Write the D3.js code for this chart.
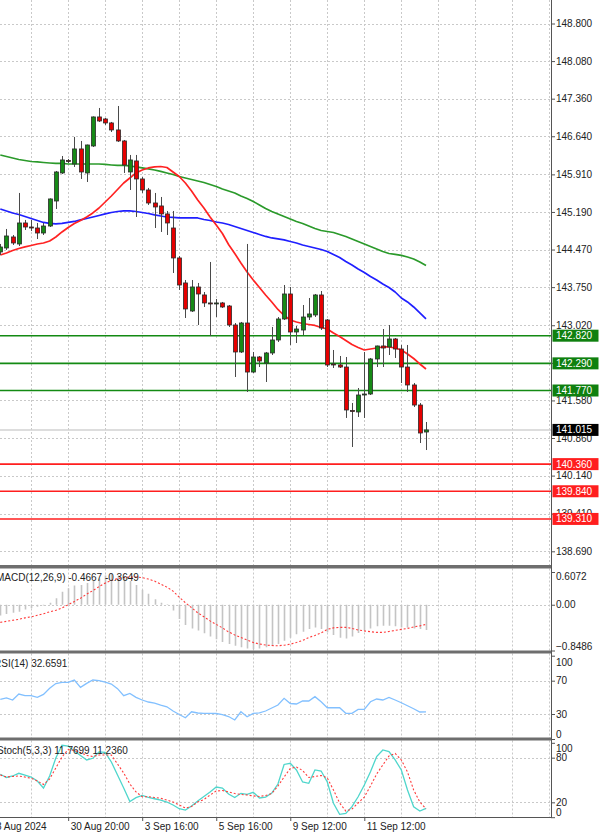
<!DOCTYPE html>
<html><head><meta charset="utf-8">
<script src="https://cdn.jsdelivr.net/npm/d3@7"></script>
<style>html,body{margin:0;padding:0;background:#fff;overflow:hidden}</style>
</head><body><svg id="c" width="600" height="832"></svg>
<script>
// ---------------- data ----------------
const opens = [144.424,144.500,144.711,144.577,144.979,144.902,144.883,144.787,144.921,145.400,
145.937,146.176,146.109,146.397,145.937,146.454,147.010,146.971,146.895,146.761,
146.550,145.956,146.167,145.822,145.611,145.362,145.305,145.152,144.883,144.309,
143.830,143.293,143.753,143.600,143.447,143.437,143.447,143.389,143.025,142.508,
143.063,142.124,142.412,142.297,142.489,142.738,143.140,143.619,142.891,142.929,
143.178,143.217,143.600,143.121,142.278,142.259,142.220,141.387,141.359,141.684,
141.703,142.374,142.623,142.604,142.757,142.565,142.220,141.876,141.492,140.975];
const highs = [144.577,144.864,144.749,145.554,145.037,145.037,144.979,144.979,145.450,145.975,
146.262,146.205,146.627,146.550,146.480,147.020,147.182,146.990,146.914,147.220,
146.569,146.282,146.282,145.860,145.650,145.554,145.477,145.209,145.209,144.347,
143.887,143.887,143.830,143.657,144.232,143.523,143.466,143.408,143.063,143.083,
144.577,142.508,142.431,142.508,142.987,143.178,143.791,143.753,143.006,143.408,
143.542,143.619,143.676,143.140,142.546,142.431,142.412,141.531,141.818,142.508,
142.393,142.630,142.948,143.025,142.776,142.642,142.642,141.914,141.531,141.167];
const lows = [144.366,144.462,144.558,144.538,144.845,144.826,144.672,144.749,144.902,145.247,
145.918,146.128,146.052,145.822,145.764,146.435,146.914,146.856,146.722,146.531,
145.937,145.611,145.094,145.554,145.324,144.883,144.807,144.749,144.021,143.696,
143.159,143.274,143.025,143.370,142.814,143.178,143.351,142.987,142.029,142.489,
141.742,142.105,142.220,141.933,142.450,142.699,143.121,142.642,142.680,142.833,
143.121,143.178,142.929,142.220,142.201,142.201,141.244,140.688,141.263,141.244,
141.684,142.220,142.220,142.450,142.393,141.914,141.742,141.454,140.764,140.630];
const closes = [144.519,144.730,144.596,144.979,144.902,144.883,144.787,144.921,145.439,145.956,
146.186,146.167,146.397,145.956,146.473,147.010,146.933,146.895,146.761,146.550,
146.090,146.186,145.822,145.611,145.362,145.286,145.152,144.979,144.309,143.791,
143.332,143.753,143.619,143.447,143.437,143.447,143.370,143.025,142.508,143.063,
142.124,142.412,142.335,142.489,142.738,143.140,143.619,142.891,142.948,143.178,
143.236,143.600,142.968,142.259,142.259,142.220,141.397,141.378,141.684,141.703,
142.374,142.623,142.584,142.757,142.565,142.220,141.876,141.492,140.956,141.015];

const maRed = [144.366,144.404,144.452,144.491,144.520,144.548,144.577,144.596,144.635,144.711,
144.807,144.893,144.970,145.027,145.094,145.171,145.266,145.381,145.496,145.621,
145.745,145.841,145.937,145.994,146.033,146.052,146.061,146.042,145.956,145.870,
145.745,145.592,145.420,145.266,145.094,144.941,144.778,144.567,144.395,144.213,
144.040,143.887,143.743,143.600,143.466,143.322,143.207,143.121,143.083,143.054,
143.035,143.016,142.977,142.949,142.872,142.805,142.728,142.651,142.594,142.546,
142.565,142.584,142.604,142.604,142.584,142.546,142.470,142.383,142.278,142.182];
const maBlue = [145.247,145.209,145.171,145.142,145.104,145.065,145.027,144.989,144.970,144.960,
144.970,144.989,145.008,145.037,145.065,145.094,145.123,145.152,145.180,145.199,
145.209,145.209,145.199,145.180,145.161,145.133,145.113,145.094,145.085,145.075,
145.075,145.075,145.075,145.046,145.027,144.998,144.979,144.950,144.912,144.874,
144.835,144.797,144.759,144.721,144.692,144.673,144.654,144.625,144.596,144.558,
144.529,144.500,144.471,144.433,144.376,144.318,144.242,144.175,144.098,144.031,
143.954,143.887,143.811,143.744,143.657,143.542,143.466,143.370,143.255,143.140];
const maGreen = [146.282,146.253,146.224,146.195,146.176,146.157,146.148,146.138,146.128,146.119,
146.119,146.109,146.109,146.109,146.109,146.109,146.109,146.100,146.090,146.081,
146.081,146.071,146.052,146.033,146.014,145.994,145.966,145.937,145.908,145.870,
145.841,145.812,145.784,145.755,145.717,145.678,145.630,145.592,145.554,145.496,
145.448,145.391,145.324,145.257,145.199,145.152,145.104,145.056,145.008,144.970,
144.922,144.874,144.835,144.816,144.797,144.759,144.721,144.673,144.625,144.577,
144.529,144.481,144.433,144.395,144.376,144.357,144.328,144.290,144.232,144.165];

const macdMain = [-0.20,-0.17,-0.15,-0.13,-0.09,-0.065,-0.035,-0.015,0.035,0.12,
0.243,0.308,0.355,0.364,0.401,0.439,0.485,0.541,0.569,0.541,
0.504,0.439,0.364,0.280,0.205,0.103,0.037,0.009,-0.108,-0.265,
-0.377,-0.44,-0.48,-0.53,-0.59,-0.64,-0.69,-0.73,-0.76,-0.79,
-0.81,-0.825,-0.81,-0.79,-0.76,-0.73,-0.67,-0.61,-0.545,-0.50,
-0.45,-0.42,-0.45,-0.51,-0.56,-0.61,-0.625,-0.59,-0.525,-0.48,
-0.44,-0.40,-0.39,-0.39,-0.40,-0.42,-0.42,-0.44,-0.45,-0.4667];
const macdSignal = [-0.327,-0.308,-0.289,-0.271,-0.243,-0.224,-0.196,-0.168,-0.131,-0.103,
-0.06,0.0,0.06,0.121,0.196,0.261,0.336,0.401,0.448,0.485,
0.504,0.513,0.513,0.504,0.476,0.439,0.383,0.327,0.252,0.140,
0.037,-0.056,-0.149,-0.224,-0.299,-0.364,-0.429,-0.504,-0.560,-0.607,
-0.653,-0.700,-0.728,-0.747,-0.756,-0.761,-0.750,-0.732,-0.700,-0.663,
-0.607,-0.569,-0.523,-0.457,-0.429,-0.420,-0.420,-0.439,-0.467,-0.485,
-0.500,-0.513,-0.513,-0.495,-0.476,-0.457,-0.439,-0.411,-0.392,-0.3649];

const rsiValues = [47.6,49.4,46.8,54.0,52.0,52.0,50.0,53.6,60.8,66.6,
68.0,68.0,70.8,62.0,66.8,70.8,70.0,68.4,66.0,60.4,
52.0,54.8,50.0,46.8,44.4,43.2,40.8,38.7,33.6,29.4,
25.5,32.7,31.2,30.8,30.8,30.6,29.4,27.0,22.8,32.7,
26.7,30.8,31.4,33.6,37.2,40.8,48.8,42.6,42.0,45.6,
45.6,50.8,44.7,37.5,37.5,37.5,30.8,30.8,35.6,35.6,
44.7,48.0,46.8,50.0,46.8,43.5,39.9,36.3,32.4,32.6591];

const stochMain = [57.7,53.4,55.4,59.0,56.7,54.0,48.7,39.2,55.4,79.6,
96.7,95.7,89.0,83.0,76.9,79.2,87.7,87.0,74.2,56.7,
39.2,21.1,26.2,29.2,26.7,24.8,22.8,20.4,16.4,11.4,
9.6,15.0,21.8,27.8,33.9,40.6,39.2,31.2,26.5,32.1,
30.8,33.5,25.8,27.1,32.5,44.6,70.9,72.5,63.5,47.3,
45.6,63.5,62.1,47.3,18.7,3.9,5.2,14.1,27.5,43.3,
61.2,81.4,90.4,88.1,76.9,63.5,36.6,14.1,8.3,11.7699];
const stochSignal = [56.7,54.0,54.7,55.4,54.0,52.3,48.7,44.0,51.4,66.1,
80.9,91.0,89.7,87.0,83.0,81.6,83.6,83.6,83.6,71.5,
59.4,44.6,33.9,27.5,27.5,26.5,25.4,23.1,20.4,16.4,
12.3,14.4,20.4,23.8,29.8,35.2,35.9,33.9,31.8,30.5,
29.8,28.7,27.8,29.2,31.8,41.9,54.0,65.5,67.5,62.8,
53.4,54.7,56.1,52.7,36.6,19.1,8.3,11.0,19.1,27.1,
41.9,58.1,70.2,82.3,85.7,76.9,60.8,36.6,20.4,11.236];

const priceTicks = [148.800,148.080,147.360,146.640,145.910,145.190,144.470,143.750,143.020,142.300,141.580,140.860,140.140,139.410,138.690];
const supportLevels = [140.360,139.840,139.310];
const resistanceLevels = [142.820,142.290,141.770];
const lastPrice = 141.015;
const macdTicks = [0.6072,0.00,-0.8486];
const rsiTicks = [100,70,30,0];
const stochTicks = [100,80,20,0];
const dateBars = [-2,11,23,35,47,59];
const dateTexts = ["28 Aug 2024","30 Aug 20:00","3 Sep 16:00","5 Sep 16:00","9 Sep 12:00","11 Sep 12:00"];
const macdLabel = "MACD(12,26,9) -0.4667 -0.3649";
const rsiLabel = "RSI(14) 32.6591";
const stochLabel = "Stoch(5,3,3) 11.7699 11.2360";

// ---------------- layout ----------------
const AX = 551;
const FONT = '"Liberation Sans", Arial, sans-serif';
const TXT = '#222';
const GRID = '#c9c9c9';
const svg = d3.select('#c');

const x = d3.scaleLinear().domain([0, 89]).range([0.3, 549.4]);
const yP = d3.scaleLinear().domain([138.69, 148.8]).range([551.3, 23.5]);
const yM = d3.scaleLinear().domain([-0.8486, 0.6072]).range([650.5, 572]);
const yR = d3.scaleLinear().domain([0, 100]).range([739, 655.7]);
const yS = d3.scaleLinear().domain([0, 100]).range([817.2, 742.8]);

const panels = {
  main: [0, 565], macd: [568.5, 650.5], rsi: [653.5, 738], stoch: [740.5, 817]
};
const defs = svg.append('defs');
Object.entries(panels).forEach(([k, [t, b]]) => {
  defs.append('clipPath').attr('id', 'clip-' + k)
    .append('rect').attr('x', 0).attr('y', t).attr('width', AX).attr('height', b - t);
});

const gridBars = d3.range(5, 90, 6);

function vGrid(key) {
  const [t, b] = panels[key];
  svg.append('g').selectAll('line').data(gridBars).join('line')
    .attr('x1', d => Math.round(x(d)) + 0.5).attr('x2', d => Math.round(x(d)) + 0.5)
    .attr('y1', t).attr('y2', b)
    .attr('stroke', GRID).attr('stroke-width', 1).attr('stroke-dasharray', '2,2');
}
function hGrid(vals, scale) {
  svg.append('g').selectAll('line').data(vals).join('line')
    .attr('x1', 0).attr('x2', AX)
    .attr('y1', d => Math.round(scale(d)) + 0.5).attr('y2', d => Math.round(scale(d)) + 0.5)
    .attr('stroke', GRID).attr('stroke-width', 1).attr('stroke-dasharray', '2,2');
}

// ---------- main panel ----------
vGrid('main');
hGrid(priceTicks, yP);

// last price line
svg.append('line').attr('x1', 0).attr('x2', AX)
  .attr('y1', yP(lastPrice)).attr('y2', yP(lastPrice))
  .attr('stroke', '#d2d2d2').attr('stroke-width', 1.5);

// level lines
const gLev = svg.append('g');
gLev.selectAll('line.res').data(resistanceLevels).join('line').attr('class', 'res')
  .attr('x1', 0).attr('x2', AX).attr('y1', d => yP(d)).attr('y2', d => yP(d))
  .attr('stroke', '#138a13').attr('stroke-width', 1.6);
gLev.selectAll('line.sup').data(supportLevels).join('line').attr('class', 'sup')
  .attr('x1', 0).attr('x2', AX).attr('y1', d => yP(d)).attr('y2', d => yP(d))
  .attr('stroke', '#ff1e1e').attr('stroke-width', 1.6);

// moving averages
const gMain = svg.append('g').attr('clip-path', 'url(#clip-main)');
const lineP = d3.line().x((d, i) => x(i)).y(d => yP(d));
[[maGreen, '#2b9a2b'], [maBlue, '#1f1fff'], [maRed, '#ff2222']].forEach(([arr, col]) => {
  gMain.append('path').datum(arr).attr('d', lineP)
    .attr('fill', 'none').attr('stroke', col).attr('stroke-width', 1.7)
    .attr('stroke-linejoin', 'round');
});

// candles
const bars = d3.range(opens.length);
gMain.append('g').selectAll('line').data(bars).join('line')
  .attr('x1', i => Math.round(x(i)) + 0.5).attr('x2', i => Math.round(x(i)) + 0.5)
  .attr('y1', i => yP(highs[i])).attr('y2', i => yP(lows[i]))
  .attr('stroke', '#4a4a4a').attr('stroke-width', 1);
gMain.append('g').selectAll('rect').data(bars).join('rect')
  .attr('x', i => Math.round(x(i)) - 1.5)
  .attr('width', 4)
  .attr('y', i => Math.min(yP(opens[i]), yP(closes[i])))
  .attr('height', i => Math.max(1, Math.abs(yP(opens[i]) - yP(closes[i]))))
  .attr('fill', i => closes[i] >= opens[i] ? '#168a16' : '#e60000')
  .attr('stroke', '#2a2a2a').attr('stroke-width', 0.8);

// ---------- MACD ----------
vGrid('macd');
hGrid([0], yM);
const gMacd = svg.append('g').attr('clip-path', 'url(#clip-macd)');
gMacd.append('g').selectAll('line').data(bars).join('line')
  .attr('x1', i => Math.round(x(i)) + 0.5).attr('x2', i => Math.round(x(i)) + 0.5)
  .attr('y1', yM(0)).attr('y2', i => yM(macdMain[i]))
  .attr('stroke', '#c4c4c4').attr('stroke-width', 1.6);
gMacd.append('path').datum(macdSignal)
  .attr('d', d3.line().x((d, i) => x(i)).y(d => yM(d)))
  .attr('fill', 'none').attr('stroke', '#ff3b3b').attr('stroke-width', 1.1)
  .attr('stroke-dasharray', '2,2');

// ---------- RSI ----------
vGrid('rsi');
hGrid([70, 30], yR);
const gRsi = svg.append('g').attr('clip-path', 'url(#clip-rsi)');
gRsi.append('path').datum(rsiValues)
  .attr('d', d3.line().x((d, i) => x(i)).y(d => yR(d)))
  .attr('fill', 'none').attr('stroke', '#82c0ff').attr('stroke-width', 1.3);

// ---------- Stochastic ----------
vGrid('stoch');
hGrid([80, 20], yS);
const gSt = svg.append('g').attr('clip-path', 'url(#clip-stoch)');
gSt.append('path').datum(stochMain)
  .attr('d', d3.line().x((d, i) => x(i)).y(d => yS(d)))
  .attr('fill', 'none').attr('stroke', '#4fd6cc').attr('stroke-width', 1.3);
gSt.append('path').datum(stochSignal)
  .attr('d', d3.line().x((d, i) => x(i)).y(d => yS(d)))
  .attr('fill', 'none').attr('stroke', '#ff3b3b').attr('stroke-width', 1.1)
  .attr('stroke-dasharray', '2,2');

// ---------- separators & frame ----------
[[565, 3.5], [650.5, 3], [737.5, 3]].forEach(([y0, h]) => {
  svg.append('rect').attr('x', 0).attr('y', y0).attr('width', AX).attr('height', h).attr('fill', '#6e6e6e');
});
svg.append('line').attr('x1', 0).attr('x2', AX).attr('y1', 817.5).attr('y2', 817.5)
  .attr('stroke', '#555').attr('stroke-width', 1);
svg.append('line').attr('x1', AX + 0.5).attr('x2', AX + 0.5).attr('y1', 0).attr('y2', 818)
  .attr('stroke', '#555').attr('stroke-width', 1);

// ---------- axes ----------
function styleAxis(g) {
  g.select('.domain').remove();
  g.selectAll('line').attr('stroke', '#555');
  g.selectAll('text').attr('fill', TXT).style('font-family', FONT).style('font-size', '10px');
}
const axP = svg.append('g').attr('transform', `translate(${AX},0)`)
  .call(d3.axisRight(yP).tickValues(priceTicks).tickSize(4).tickPadding(1).tickFormat(d3.format('.3f')));
styleAxis(axP);

const axM = svg.append('g').attr('transform', `translate(${AX},0)`)
  .call(d3.axisRight(yM).tickValues(macdTicks).tickSize(4).tickPadding(1)
    .tickFormat(d => d === 0 ? '0.00' : d3.format('.4f')(d)));
styleAxis(axM);
axM.selectAll('.tick text').attr('dy', d => d === macdTicks[0] ? '0.75em' : d === macdTicks[2] ? '-0.1em' : '0.32em');

const axR = svg.append('g').attr('transform', `translate(${AX},0)`)
  .call(d3.axisRight(yR).tickValues(rsiTicks).tickSize(4).tickPadding(1));
styleAxis(axR);
axR.selectAll('.tick text').attr('dy', d => d === 100 ? '0.95em' : d === 0 ? '-0.2em' : '0.32em');

const axS = svg.append('g').attr('transform', `translate(${AX},0)`)
  .call(d3.axisRight(yS).tickValues(stochTicks).tickSize(4).tickPadding(1));
styleAxis(axS);
axS.selectAll('.tick text').attr('dy', d => d === 100 ? '0.85em' : d === 0 ? '-0.2em' : '0.32em');

const axX = svg.append('g').attr('transform', 'translate(0,817)')
  .call(d3.axisBottom(x).tickValues(dateBars).tickSize(4).tickPadding(2)
    .tickFormat((d, i) => dateTexts[i]));
styleAxis(axX);
axX.selectAll('.tick text').attr('text-anchor', 'start').attr('x', 2);

// level label boxes
function levelBox(v, col) {
  const g = svg.append('g');
  g.append('rect').attr('x', AX + 1.5).attr('y', yP(v) - 6).attr('width', 46).attr('height', 12).attr('fill', col);
  g.append('text').attr('x', AX + 5).attr('y', yP(v)).attr('dy', '0.35em')
    .attr('fill', '#fff').style('font-family', FONT).style('font-size', '10px')
    .text(d3.format('.3f')(v));
}
resistanceLevels.forEach(v => levelBox(v, '#0f800f'));
levelBox(lastPrice, '#000');
supportLevels.forEach(v => levelBox(v, '#ff1e1e'));

// indicator titles
[[macdLabel, 577], [rsiLabel, 663.5], [stochLabel, 750]].forEach(([t, yy], k) => {
  svg.append('text').attr('x', [-4, -6, -3][k]).attr('y', yy).attr('dy', '0.35em')
    .attr('fill', TXT).style('font-family', FONT).style('font-size', '10px').text(t);
});
</script>
</body></html>
